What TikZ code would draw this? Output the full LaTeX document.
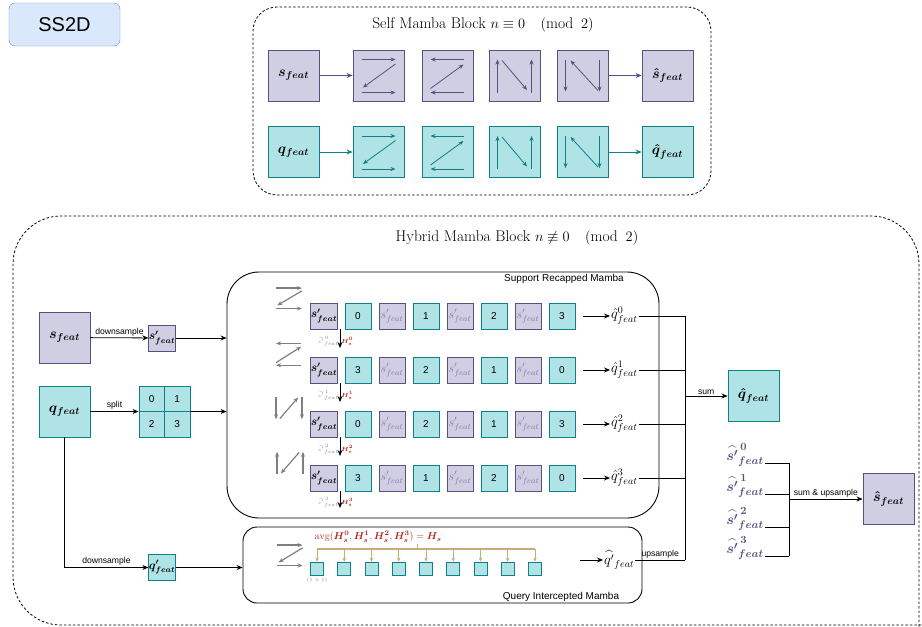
\documentclass[tikz,border=0pt]{standalone}
\usepackage{amsmath}
\usepackage{amssymb}
\usepackage{fontspec}
\setsansfont{Liberation Sans}
\usetikzlibrary{arrows.meta,positioning}

\definecolor{pfill}{HTML}{D0CEE2}
\definecolor{pdraw}{HTML}{56517E}
\definecolor{tfill}{HTML}{B0E3E6}
\definecolor{tdraw}{HTML}{0E8088}
\definecolor{bfill}{HTML}{DAE8FC}
\definecolor{bdraw}{HTML}{6C8EBF}
\definecolor{hred}{HTML}{B3261E}
\definecolor{busclr}{HTML}{C4AE78}
\definecolor{sfade}{HTML}{8E76AE}
\definecolor{scangray}{HTML}{7F7F7F}

\tikzset{
  pbox/.style={draw=pdraw, fill=pfill, line width=0.9pt, inner sep=0pt, minimum size=51pt, font=\fontsize{14}{16}\selectfont},
  tbox/.style={draw=tdraw, fill=tfill, line width=0.9pt, inner sep=0pt, minimum size=51pt, font=\fontsize{14}{16}\selectfont},
  psm/.style={pbox, minimum size=26pt, font=\fontsize{12}{13}\selectfont},
  psf/.style={psm, text=sfade},
  tsm/.style={tbox, minimum size=26pt, font=\sffamily\fontsize{10}{12}\selectfont},
  ttiny/.style={tbox, minimum size=13pt, line width=0.7pt},
  lbl/.style={font=\sffamily\fontsize{8.6}{10}\selectfont, inner sep=1.5pt},
  arr/.style={-{Stealth[length=6pt,width=5pt]}, line width=0.8pt},
  scanarr/.style={-{Stealth[length=5pt,width=4pt]}},
  busarr/.style={-{Stealth[length=4pt,width=3.5pt]}, busclr, line width=0.9pt},
  qlab/.style={font=\fontsize{14}{16}\selectfont, inner sep=1pt},
  hlab/.style={font=\fontsize{6.5}{7}\selectfont, text=hred, inner sep=1pt},
  slab/.style={font=\fontsize{5.5}{6}\selectfont, text=sfade, inner sep=1pt},
  scanZ/.pic={
    \draw[scanarr] (-17,-16) -- (17,-16);
    \draw[scanarr] (17,-11.5) -- (-15.5,12);
    \draw[scanarr] (-17,17) -- (17,17);
  },
  scanS/.pic={
    \draw[scanarr] (16,-16) -- (-17,-16);
    \draw[scanarr] (-17,13) -- (16,-11);
    \draw[scanarr] (16,17) -- (-17,17);
  },
  scanN/.pic={
    \draw[scanarr] (-17,17) -- (-17,-16);
    \draw[scanarr] (-12.5,-15) -- (12.5,14.5);
    \draw[scanarr] (17,17) -- (17,-16);
  },
  scanR/.pic={
    \draw[scanarr] (-17,-16) -- (-17,16);
    \draw[scanarr] (15.5,15) -- (-12,-15);
    \draw[scanarr] (17,-16) -- (17,16);
  },
  scanD/.pic={
    \draw[scanarr] (-17,-16) -- (-17,16);
    \draw[scanarr] (-12,15) -- (12,-15);
    \draw[scanarr] (17,-16) -- (17,16);
  },
  scanU/.pic={
    \draw[scanarr] (-17,16) -- (-17,-16);
    \draw[scanarr] (12,-15) -- (-12,15);
    \draw[scanarr] (17,16) -- (17,-16);
  },
}

\begin{document}
\begin{tikzpicture}[x=1pt, y=-1pt]
\useasboundingbox (0,0) rectangle (922,627);

% SS2D tag
\node[draw=bdraw, fill=bfill, rounded corners=6pt, minimum width=111pt, minimum height=43pt, font=\sffamily\fontsize{20}{24}\selectfont] (ss) at (64.5,24.5) {SS2D};

% self mamba block
\node[draw, line width=0.8pt, dash pattern=on 2.5pt off 2pt, rounded corners=24pt, minimum width=458pt, minimum height=188pt] (smb) at (482,101) {};
\node[font=\fontsize{15.5}{18}\selectfont] (smbt) at (483,25) {Self Mamba Block $n \equiv 0 \quad (\mathrm{mod}\;\;2)$};

\node[pbox] (s1) at (293.5,75.5) {$\boldsymbol{s_{feat}}$};
\node[pbox] (s2) at (378.5,75.5) {};
\node[pbox] (s3) at (447.5,75.5) {};
\node[pbox] (s4) at (514.5,75.5) {};
\node[pbox] (s5) at (582.5,75.5) {};
\node[pbox] (s6) at (667.5,75.5) {$\boldsymbol{\hat{s}_{feat}}$};
\draw[arr, pdraw] (s1) -- (s2);
\draw[arr, pdraw] (s5) -- (s6);
\pic[pdraw, line width=0.8pt] at (s2) {scanZ};
\pic[pdraw, line width=0.8pt] at (s3) {scanS};
\pic[pdraw, line width=0.8pt] at (s4) {scanN};
\pic[pdraw, line width=0.8pt] at (s5) {scanR};

\node[tbox] (q1) at (293.5,152) {$\boldsymbol{q_{feat}}$};
\node[tbox] (q2) at (378.5,152) {};
\node[tbox] (q3) at (447.5,152) {};
\node[tbox] (q4) at (514.5,152) {};
\node[tbox] (q5) at (582.5,152) {};
\node[tbox] (q6) at (667.5,152) {$\boldsymbol{\hat{q}_{feat}}$};
\draw[arr, tdraw] (q1) -- (q2);
\draw[arr, tdraw] (q5) -- (q6);
\pic[tdraw, line width=0.8pt] at (q2) {scanZ};
\pic[tdraw, line width=0.8pt] at (q3) {scanS};
\pic[tdraw, line width=0.8pt] at (q4) {scanN};
\pic[tdraw, line width=0.8pt] at (q5) {scanR};

% hybrid mamba block
\draw[dash pattern=on 2.5pt off 2pt, line width=0.8pt, rounded corners=48pt] (919,640) -- (919,216) -- (13,216) -- (13,625) -- (940,625);
\node[font=\fontsize{15.5}{18}\selectfont] (hmbt) at (517,238) {Hybrid Mamba Block $n \not\equiv 0 \quad (\mathrm{mod}\;\;2)$};

% inputs
\node[pbox] (sf) at (64.5,337.5) {$\boldsymbol{s_{feat}}$};
\node[psm] (sp) at (162,338) {$\boldsymbol{s'_{feat}}$};
\node[tbox] (qf) at (64.5,411.5) {$\boldsymbol{q_{feat}}$};
\node[tsm, minimum size=25.5pt] (g0) at (151.75,398.75) {0};
\node[tsm, minimum size=25.5pt] (g1) at (177.25,398.75) {1};
\node[tsm, minimum size=25.5pt] (g2) at (151.75,424.25) {2};
\node[tsm, minimum size=25.5pt] (g3) at (177.25,424.25) {3};
\node[tbox, minimum size=26pt, font=\fontsize{12}{13}\selectfont] (qp) at (162,567.5) {$\boldsymbol{q'_{feat}}$};

% support recapped mamba
\node[draw, line width=0.9pt, rounded corners=32pt, minimum width=432pt, minimum height=246pt] (srm) at (443,395) {};
\node[lbl, font=\sffamily\fontsize{10}{12}\selectfont] (srmt) at (564,279) {Support Recapped Mamba};

% query intercepted mamba
\node[draw, line width=0.9pt, rounded corners=14pt, minimum width=399pt, minimum height=76pt] (qim) at (442.5,565) {};
\node[lbl, font=\sffamily\fontsize{10}{12}\selectfont] (qimt) at (561,597) {Query Intercepted Mamba};

\draw[arr] (sf) -- node[lbl, above]{downsample} (sp);
\draw[arr] (sp.east) -- (sp.east -| srm.west);
\draw[arr] (qf.east) -- node[lbl, above]{split} (qf.east -| g0.west);
\draw[arr] (qf.east -| g1.east) -- (qf.east -| srm.west);
\draw[arr] (qf.south) |- node[lbl, above, pos=0.75]{downsample} (qp.west);
\draw[arr] (qp.east) -- (qp.east -| qim.west);

% scan order icons
\pic[scangray, line width=1.2pt, xscale=0.76, yscale=0.62] at (289,298) {scanZ};
\pic[scangray, line width=1.2pt, xscale=0.76, yscale=0.66] at (289,354) {scanS};
\pic[scangray, line width=1.2pt, xscale=0.76, yscale=0.7] at (289,408) {scanD};
\pic[scangray, line width=1.2pt, xscale=0.76, yscale=0.7] at (290,463) {scanU};
\pic[scangray, line width=1.2pt, xscale=0.74, yscale=0.62] at (290,555) {scanZ};

% row 0
\node[psm] (r0c0) at (324,316) {$\boldsymbol{s'_{feat}}$};
\node[tsm] (r0c1) at (358,316) {0};
\node[psf] (r0c2) at (392,316) {$s'_{feat}$};
\node[tsm] (r0c3) at (426,316) {1};
\node[psf] (r0c4) at (460,316) {$s'_{feat}$};
\node[tsm] (r0c5) at (494,316) {2};
\node[psf] (r0c6) at (528,316) {$s'_{feat}$};
\node[tsm] (r0c7) at (562,316) {3};
% row 1
\node[psm] (r1c0) at (324,370) {$\boldsymbol{s'_{feat}}$};
\node[tsm] (r1c1) at (358,370) {3};
\node[psf] (r1c2) at (392,370) {$s'_{feat}$};
\node[tsm] (r1c3) at (426,370) {2};
\node[psf] (r1c4) at (460,370) {$s'_{feat}$};
\node[tsm] (r1c5) at (494,370) {1};
\node[psf] (r1c6) at (528,370) {$s'_{feat}$};
\node[tsm] (r1c7) at (562,370) {0};
% row 2
\node[psm] (r2c0) at (324,424) {$\boldsymbol{s'_{feat}}$};
\node[tsm] (r2c1) at (358,424) {0};
\node[psf] (r2c2) at (392,424) {$s'_{feat}$};
\node[tsm] (r2c3) at (426,424) {2};
\node[psf] (r2c4) at (460,424) {$s'_{feat}$};
\node[tsm] (r2c5) at (494,424) {1};
\node[psf] (r2c6) at (528,424) {$s'_{feat}$};
\node[tsm] (r2c7) at (562,424) {3};
% row 3
\node[psm] (r3c0) at (324,478) {$\boldsymbol{s'_{feat}}$};
\node[tsm] (r3c1) at (358,478) {3};
\node[psf] (r3c2) at (392,478) {$s'_{feat}$};
\node[tsm] (r3c3) at (426,478) {1};
\node[psf] (r3c4) at (460,478) {$s'_{feat}$};
\node[tsm] (r3c5) at (494,478) {2};
\node[psf] (r3c6) at (528,478) {$s'_{feat}$};
\node[tsm] (r3c7) at (562,478) {0};

% hidden state hand-over
\coordinate (d0) at (340,348);
\coordinate (d1) at (340,402);
\coordinate (d2) at (340,456);
\coordinate (d3) at (340,508);
\draw[arr] (r0c0.south east -| d0) -- node[slab, left, pos=0.65]{$\widehat{s'}^{\,0}_{feat}$} node[hlab, right, pos=0.65]{$\boldsymbol{H_s^0}$} (d0);
\draw[arr] (r1c0.south east -| d1) -- node[slab, left, pos=0.65]{$\widehat{s'}^{\,1}_{feat}$} node[hlab, right, pos=0.65]{$\boldsymbol{H_s^1}$} (d1);
\draw[arr] (r2c0.south east -| d2) -- node[slab, left, pos=0.65]{$\widehat{s'}^{\,2}_{feat}$} node[hlab, right, pos=0.65]{$\boldsymbol{H_s^2}$} (d2);
\draw[arr] (r3c0.south east -| d3) -- node[slab, left, pos=0.65]{$\widehat{s'}^{\,3}_{feat}$} node[hlab, right, pos=0.65]{$\boldsymbol{H_s^3}$} (d3);

% row outputs
\node[qlab, anchor=west] (o0) at (610,316) {$\hat{q}^{0}_{feat}$};
\node[qlab, anchor=west] (o1) at (610,370) {$\hat{q}^{1}_{feat}$};
\node[qlab, anchor=west] (o2) at (610,424) {$\hat{q}^{2}_{feat}$};
\node[qlab, anchor=west] (o3) at (610,478) {$\hat{q}^{3}_{feat}$};
\draw[arr] ([xshift=8pt]r0c7.east) -- (o0.west);
\draw[arr] ([xshift=8pt]r1c7.east) -- (o1.west);
\draw[arr] ([xshift=8pt]r2c7.east) -- (o2.west);
\draw[arr] ([xshift=8pt]r3c7.east) -- (o3.west);

% query tokens
\node[ttiny] (t0) at (317,568.5) {};
\node[ttiny] (t1) at (344.25,568.5) {};
\node[ttiny] (t2) at (371.5,568.5) {};
\node[ttiny] (t3) at (398.75,568.5) {};
\node[ttiny] (t4) at (426,568.5) {};
\node[ttiny] (t5) at (453.25,568.5) {};
\node[ttiny] (t6) at (480.5,568.5) {};
\node[ttiny] (t7) at (507.75,568.5) {};
\node[ttiny] (t8) at (535,568.5) {};
\node[font=\fontsize{5}{6}\selectfont, text=gray, inner sep=1pt, below=1pt of t0] (t0l) {$(1\times 1)$};
\node[font=\fontsize{10}{11}\selectfont, text=hred, inner sep=1pt] (avg) at (378,537) {$\mathrm{avg}(\boldsymbol{H_s^0}, \boldsymbol{H_s^1}, \boldsymbol{H_s^2}, \boldsymbol{H_s^3}) = \boldsymbol{H_s}$};
\coordinate (bl) at (317,549);
\coordinate (br) at (535,549);
\draw[busclr, line width=1.2pt] (bl) -- (br);
\draw[busclr, line width=0.9pt] ([xshift=39pt]avg.south) -- ([xshift=39pt]avg.south |- bl);
\draw[busarr] (t0 |- bl) -- (t0.north);
\draw[busarr] (t1 |- bl) -- (t1.north);
\draw[busarr] (t2 |- bl) -- (t2.north);
\draw[busarr] (t3 |- bl) -- (t3.north);
\draw[busarr] (t4 |- bl) -- (t4.north);
\draw[busarr] (t5 |- bl) -- (t5.north);
\draw[busarr] (t6 |- bl) -- (t6.north);
\draw[busarr] (t7 |- bl) -- (t7.north);
\draw[busarr] (t8 |- bl) -- (t8.north);
\node[qlab, anchor=west] (oq) at (603,560) {$\widehat{q'}_{feat}$};
\coordinate (qa) at (580,560);
\draw[arr] (qa) -- (oq.west);

% sum of query outputs
\node[tbox] (qh) at (753.5,396) {$\boldsymbol{\hat{q}_{feat}}$};
\coordinate (jt) at (685,316);
\coordinate (jb) at (685,560);
\draw (o0.east) -- (jt);
\draw (o1.east) -- (o1.east -| jt);
\draw (o2.east) -- (o2.east -| jt);
\draw (o3.east) -- (o3.east -| jt);
\draw (jt) -- (jb);
\draw (oq.east) -- node[lbl, above]{upsample} (jb);
\draw[arr] (jt |- qh) -- node[lbl, above]{sum} (qh.west);

% support outputs
\node[font=\fontsize{15}{17}\selectfont, text=pdraw, inner sep=1pt] (v0) at (745,455) {$\boldsymbol{\widehat{s'}^{\,0}_{feat}}$};
\node[font=\fontsize{15}{17}\selectfont, text=pdraw, inner sep=1pt] (v1) at (745,486) {$\boldsymbol{\widehat{s'}^{\,1}_{feat}}$};
\node[font=\fontsize{15}{17}\selectfont, text=pdraw, inner sep=1pt] (v2) at (745,519) {$\boldsymbol{\widehat{s'}^{\,2}_{feat}}$};
\node[font=\fontsize{15}{17}\selectfont, text=pdraw, inner sep=1pt] (v3) at (745,548) {$\boldsymbol{\widehat{s'}^{\,3}_{feat}}$};
\node[pbox] (sh) at (888.5,499) {$\boldsymbol{\hat{s}_{feat}}$};
\coordinate (b0) at (789,463);
\coordinate (b1) at (789,494);
\coordinate (b2) at (789,527);
\coordinate (b3) at (789,556);
\draw (v0.east |- b0) -- (b0);
\draw (v1.east |- b1) -- (b1);
\draw (v2.east |- b2) -- (b2);
\draw (v3.east |- b3) -- (b3);
\draw (b0) -- (b3);
\draw[arr] (b0 |- sh) -- node[lbl, above]{sum \& upsample} (sh.west);
\end{tikzpicture}
\end{document}
